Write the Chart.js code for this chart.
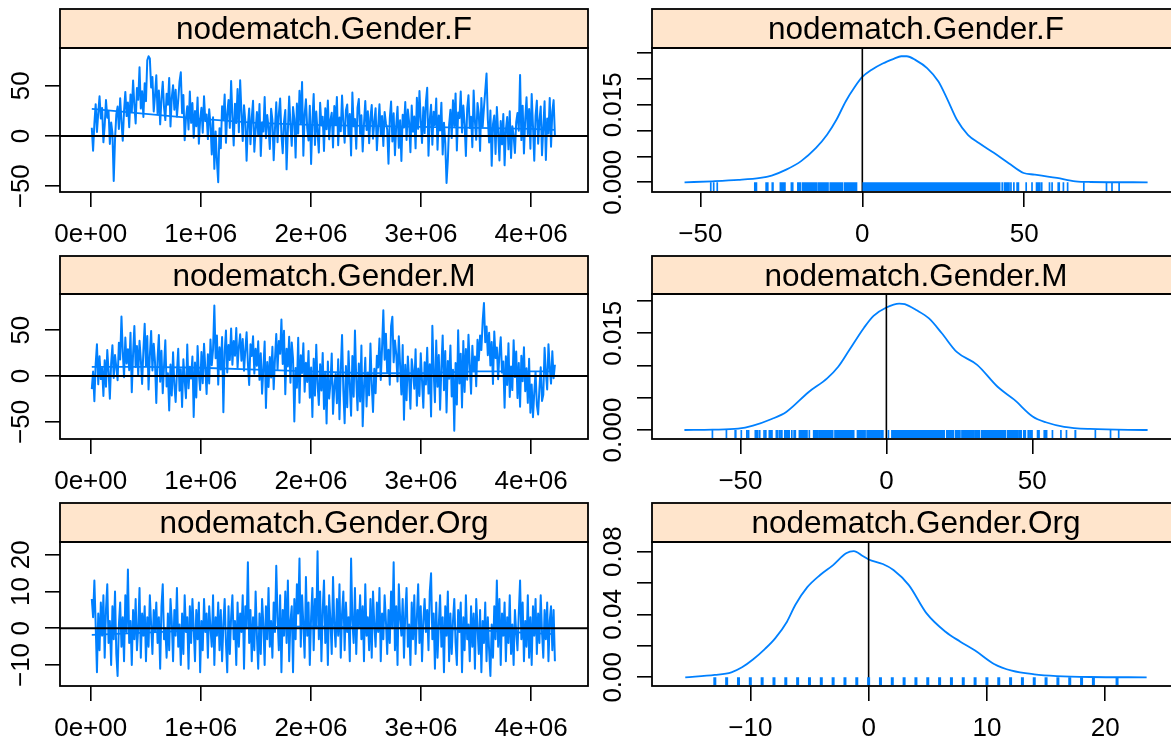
<!DOCTYPE html>
<html><head><meta charset="utf-8">
<script src="https://cdn.jsdelivr.net/npm/chart.js@4"></script>
<style>
html,body{margin:0;padding:0;background:#fff;overflow:hidden;width:1171px;height:742px;position:relative}
canvas{position:absolute}
</style></head><body>
<script>
// ---------------- DATA ----------------
const iterStart = 10000, iterStep = 11717;

const traceF = [
 8.2,-14.6,12.3,31.7,4.1,22.8,39.5,17.4,27.9,-6.3,
 10.7,35.8,18.2,24.6,-7.9,13.5,2.8,-44.8,-3.6,21.4,
 29.3,6.9,37.6,14.2,-4.7,25.1,43.9,19.8,33.4,8.7,
 41.2,23.6,55.3,30.9,12.4,47.8,36.1,68.4,27.3,44.6,
 18.9,52.4,34.7,75.4,79.3,77.1,48.2,58.6,24.3,39.9,
 60.5,21.7,45.3,11.6,36.8,53.9,28.4,15.8,42.1,31.2,
 57.8,9.4,38.3,50.6,26.2,45.9,19.3,35.5,54.2,63.4,
 22.6,40.7,-4.2,17.9,29.6,6.5,44.3,13.1,32.8,-1.8,
 24.9,9.7,38.4,-7.6,16.3,28.1,3.2,39.6,14.8,21.5,
 -3.1,26.7,11.9,-18.4,18.6,-32.7,4.6,-25.3,-45.9,7.8,
 -12.2,29.5,16.7,41.3,-6.8,22.4,35.9,8.1,54.7,19.6,
 -9.5,32.2,12.9,46.8,3.7,55.4,24.1,-4.9,30.6,15.2,
 -24.6,10.3,27.4,-8.2,18.1,35.1,-15.7,6.2,23.8,0.9,
 31.9,-19.8,13.6,4.4,38.7,-2.3,20.9,9.1,-12.9,27.2,
 16.1,-24.1,7.3,33.6,-6.1,22.1,37.4,1.6,-17.2,14.3,
 25.8,-33.2,5.4,39.2,11.2,-9.8,28.8,17.1,-21.5,32.4,
 2.4,45.1,12.6,53.8,-19.6,21.2,36.5,7.6,-4.4,30.1,
 -27.8,14.7,41.8,-8.9,24.4,3.9,-16.5,33.1,10.4,19.2,
 -14.9,27.6,6.7,35.4,-3.3,15.9,23.2,-11.4,29.9,11.1,
 38.9,-9.2,18.4,4.8,40.2,13.4,-6.6,25.6,31.3,0.4,
 21.9,-19.4,43.2,9.6,16.9,-12.6,28.3,36.9,2.1,20.6,
 -15.3,12.1,34.8,5.9,24.7,-7.2,18.3,30.8,-2.7,14.1,
 27.7,-14.2,9.3,31.6,1.2,19.9,-9.9,23.9,12.8,6.4,
 -27.6,17.6,34.3,-5.4,22.7,-19.1,10.6,29.1,-11.8,15.6,
 -24.8,21.1,8.4,33.8,-3.9,26.3,13.8,-16.2,30.3,4.3,
 19.4,-12.3,38.1,7.1,44.7,15.4,-6.9,28.6,2.9,34.1,
 47.9,-19.7,16.4,31.1,-8.6,24.2,10.9,37.3,-13.6,20.3,
 5.6,33.2,-18.3,13.3,-7.1,-46.8,-24.2,11.4,26.1,-2.1,
 35.6,9.9,42.4,-14.4,23.3,17.8,44.2,3.4,30.4,12.2,
 -19.9,27.1,40.6,7.9,19.1,-11.1,45.2,14.6,-3.8,32.9,
 22.3,-14.8,37.8,9.2,28.2,44.9,62.1,16.6,-6.4,25.3,
 -29.7,11.8,20.4,-17.8,28.9,3.6,-24.4,14.9,-8.3,21.8,
 -29.2,6.1,18.8,-13.3,24.6,-21.9,9.8,0.3,-16.9,13.7,
 22.9,5.2,60.8,-4.1,30.2,-17.4,16.8,38.6,1.9,26.8,
 -12.7,41.7,10.2,-24.7,20.1,35.2,-7.7,15.1,29.4,-19.2,
 8.9,34.6,-23.9,17.3,2.6,37.9,-10.6,24.3,35.7,0.6];

const traceM = [
 -14.3,4.8,-27.6,12.9,34.7,-9.1,21.6,-3.4,8.7,-21.8,
 17.2,-11.6,28.4,5.3,-24.9,14.1,33.6,-2.2,22.9,9.6,
 -4.6,36.2,18.1,64.8,26.7,-1.3,41.9,13.7,29.3,6.4,
 47.3,-17.6,24.2,54.6,9.9,32.8,0.7,38.4,17.9,-8.8,
 28.1,56.9,11.3,43.7,-14.7,22.4,49.2,6.1,35.3,15.6,
 -29.4,19.7,44.8,-6.3,27.5,-18.8,10.8,38.9,-11.4,3.1,
 -37.7,12.6,-21.2,25.9,-9.7,-28.3,4.2,29.6,-16.1,7.4,
 -33.9,18.3,-4.9,-24.2,34.4,-13.5,10.1,-2.8,21.3,-44.6,
 14.8,-23.4,32.6,1.9,-15.2,26.1,-7.8,35.1,8.3,-19.6,
 23.7,-8.1,39.8,11.8,28.9,76.8,19.4,44.1,-9.4,31.4,
 7.2,42.6,-39.6,26.3,49.7,3.8,33.9,17.4,51.8,12.2,
 38.2,22.1,52.3,8.9,31.6,45.5,16.6,40.3,5.7,27.8,
 47.6,13.9,-9.8,34.6,21.9,43.3,2.6,29.7,11.1,37.9,
 -4.2,24.8,-19.3,8.2,37.6,-34.8,15.3,-11.9,20.7,-1.6,
 31.8,-14.4,18.6,45.9,6.8,38.1,24.3,61.7,13.2,49.4,
 -19.8,29.8,10.4,42.8,-7.3,36.6,19.1,-49.7,8.6,-12.8,
 41.6,-29.1,22.6,3.3,35.7,-17.1,14.4,-6.6,27.4,-23.7,
 9.2,-44.7,18.9,-21.4,34.2,-8.4,-31.6,12.7,-15.9,25.2,
 -36.1,4.6,-51.8,15.8,-24.6,-7.6,24.6,-41.3,-12.1,2.3,
 -29.8,18.2,-47.2,6.9,44.6,-16.3,-51.6,10.9,-34.1,27.1,
 -9.1,-43.4,21.8,-22.7,49.6,-3.7,-37.4,13.6,-27.9,33.2,
 -54.8,-12.4,19.8,-33.3,3.9,-21.1,35.4,-8.9,-39.2,7.8,
 -18.7,22.2,9.4,40.8,-4.3,30.4,71.6,17.7,46.2,3.2,
 28.6,-9.6,54.3,64.7,14.9,38.6,24.1,-6.1,43.4,11.6,
 -20.2,33.7,-47.8,12.3,-26.4,21.4,-3.2,-35.8,18.4,4.7,
 -13.8,29.1,-32.4,8.1,-21.7,24.9,-5.3,-34.6,15.1,-9.3,
 30.7,-19.2,12.8,-44.1,54.9,5.6,-28.6,38.7,-11.7,22.8,
 -36.7,9.7,44.3,-15.6,27.2,-39.7,16.3,-2.9,33.4,-22.3,
 6.7,-59.6,14.2,-31.2,49.9,-8.2,24.4,-34.4,38.3,-17.4,
 29.4,-4.1,44.9,12.1,-19.4,33.1,5.1,21.2,-11.2,39.6,
 17.1,44.3,28.3,59.8,79.6,36.8,54.1,22.7,47.1,11.4,
 37.2,-8.7,48.6,19.6,31.2,-3.6,24.7,42.4,3.7,15.7,
 -34.7,21.6,-9.9,35.8,-22.8,10.3,-15.4,39.1,-1.2,26.6,
 -24.1,14.3,-33.6,22.1,-5.7,31.3,-16.7,8.4,-29.3,18.8,
 -40.1,-9.2,-44.9,-18.4,4.4,-31.4,-41.9,-13.3,9.6,-27.2,
 -20.6,30.8,4.1,-14.6,34.6,9.1,-8.3,26.9,-2.4,12.4];

const traceOrg = [
 8,3,13,1,-12,4,-6,7,-2,9,
 -8,5,12,-4,2,-10,6,-3,10,-7,
 -13,1,7,-5,3,-9,9,-1,16,-4,
 2,-10,5,-3,8,-6,0,11,-8,4,
 -2,6,-9,3,-5,9,1,-7,5,-1,
 7,-4,3,-11,6,12,-3,0,-8,4,
 -6,8,2,-9,5,-2,11,-5,1,-10,
 4,-7,9,-1,3,-11,6,-4,8,0,
 -9,5,-3,7,-12,2,-6,8,-1,4,
 -8,6,0,-5,9,-10,3,-2,7,-6,
 5,-9,1,8,-4,-12,6,-7,3,9,
 -3,2,-10,7,-5,4,-1,9,-11,6,
 0,18,-4,5,-9,3,-6,10,-2,-11,
 4,-7,8,1,-10,6,-3,11,-5,2,
 -8,7,-1,17,3,-6,9,-12,5,-2,
 10,-4,13,-9,2,6,-12,8,-3,12,
 4,19,-5,9,1,-8,14,-2,7,-10,
 3,11,-6,8,0,21,-3,10,-9,5,
 13,-4,6,-10,9,2,-7,14,1,-5,
 8,-2,12,-8,4,10,-6,7,-1,3,
 -9,19,2,-4,11,-7,5,0,9,-3,
 6,-9,12,-2,3,-6,8,-8,10,1,
 -5,7,-1,11,-9,4,-3,9,2,-7,
 5,-4,10,0,18,-6,6,-10,12,3,
 -2,8,-8,4,11,-5,1,-10,7,-3,
 9,-7,3,12,-4,6,-9,2,8,-1,
 5,-6,10,15,-3,4,-11,7,-8,1,
 9,-5,3,-12,6,-2,10,-9,4,-7,
 2,8,-4,-10,5,-1,7,-12,3,-6,
 9,-3,1,-9,6,-5,4,-11,8,0,
 -7,5,-12,2,-4,7,-9,3,-6,-13,
 1,-8,6,-3,13,-5,8,-10,4,-2,
 7,-9,3,-4,9,-7,1,-10,5,-1,
 -6,4,13,-3,7,-9,2,-5,9,-8,
 3,-10,6,-2,8,-7,4,-4,9,-1,
 -8,5,-3,7,-9,2,6,-6,5,-9];

// smoothed trend lines of the traces
const smoothIter = [10000,500000,1000000,1500000,2000000,2500000,3000000,3500000,4000000,4216400];
const smoothF   = [27,22,17,13,11,10,9,8,7,6];
const smoothM   = [10,10,9,7,5,3,3,5,5,5];
const smoothOrg = [-1.8,-1.2,-0.5,0.3,0.5,0.3,0,-0.5,-1.3,-1.6];

// kernel density estimates
const densFX = [-54.9,-46.3,-38.3,-31.5,-28.0,-23.5,-18.9,-14.3,-10.9,-8.0,-5.1,-2.3,0,2.9,6.3,9.7,12.0,13.7,16.6,20.0,23.5,26.3,29.2,32.6,36.0,40.6,45.2,49.8,53.2,60.1,65.8,70.4,88.1];
const densFY = [0,0.00019,0.00045,0.00084,0.0013,0.00245,0.0041,0.00665,0.0092,0.0121,0.0157,0.0185,0.0204,0.0218,0.0230,0.0239,0.0244,0.0244,0.0236,0.0221,0.0195,0.0160,0.0121,0.0092,0.0076,0.0057,0.0037,0.0018,0.0015,0.00084,0.00019,0.00006,0];
const densMX = [-69.2,-59.6,-50.8,-45.7,-39.3,-34.3,-26.6,-20.3,-16.5,-12.7,-7.6,-4.4,0,4.4,6.3,10.2,14.6,19.0,24.1,31.1,38.1,43.8,50.1,54.6,60.9,69.8,89.5];
const densMY = [0,0.00005,0.0002,0.00067,0.0017,0.0028,0.0059,0.0080,0.0098,0.0124,0.0159,0.0177,0.0190,0.0196,0.0195,0.0186,0.0173,0.0150,0.0121,0.0101,0.0067,0.0047,0.0021,0.0012,0.0005,0.00016,0];
const densOrgX = [-15.5,-13.0,-11.6,-10.7,-9.75,-8.8,-7.9,-6.9,-6.2,-5.2,-4.1,-3.0,-1.9,-1.25,-0.5,0,1.2,2.1,3.4,4.9,6.5,7.75,9.0,10.6,12.1,14.0,15.9,18.7,23.5];
const densOrgY = [0,0.0015,0.0032,0.0064,0.0115,0.0178,0.0248,0.0354,0.046,0.0572,0.0651,0.0714,0.0789,0.0803,0.0772,0.0750,0.0721,0.0683,0.0587,0.0407,0.0290,0.0227,0.0170,0.0085,0.0042,0.0019,0.0008,0.0002,0];

// tick values and labels
const traceXTicks  = [0,1e6,2e6,3e6,4e6];
const traceXLabels = ['0e+00','1e+06','2e+06','3e+06','4e+06'];
const traceYTicks  = [-50,0,50];
const traceYLabels = ['\u221250','0','50'];
const traceOrgYTicks  = [-10,0,10,20];
const traceOrgYLabels = ['\u221210','0','10','20'];
const densXTicks  = [-50,0,50];
const densXLabels = ['\u221250','0','50'];
const densOrgXTicks  = [-10,0,10,20];
const densOrgXLabels = ['\u221210','0','10','20'];
const densFYTicks  = [0,0.005,0.01,0.015,0.02,0.025];
const densFYLabels = ['0.000','','','0.015','',''];
const densMYTicks  = [0,0.005,0.01,0.015,0.02];
const densMYLabels = ['0.000','','','0.015',''];
const densOrgYTicks  = [0,0.02,0.04,0.06,0.08];
const densOrgYLabels = ['0.00','','0.04','','0.08'];

const titles = ['nodematch.Gender.F','nodematch.Gender.M','nodematch.Gender.Org'];

// ---------------- LAYOUT / STYLE ----------------
const BLUE = '#0080FF', STRIP = '#FFE5CC';
const FONT = '"Liberation Sans", Arial, Helvetica, sans-serif';
const rows = [
  {stripTop:9,   plotTop:48,  plotBottom:192},
  {stripTop:256, plotTop:294, plotBottom:439},
  {stripTop:503, plotTop:542, plotBottom:686}
];
const cols = [{boxLeft:60, boxRight:588},{boxLeft:652, boxRight:1180}];
const LEFT_M = 60, BOTTOM_M = 55;

const iterations = traceF.map((_, i) => iterStart + i * iterStep);
const pts = (xs, ys) => xs.map((x, i) => ({x, y: ys[i]}));

const panels = [
  {row:0,col:0,kind:'trace',title:titles[0],vals:traceF,smooth:smoothF,xMin:-278800,xMax:4517000,yMin:-55.72,yMax:87.56,xT:traceXTicks,xL:traceXLabels,yT:traceYTicks,yL:traceYLabels},
  {row:0,col:1,kind:'dens',title:titles[0],dx:densFX,dy:densFY,rug:traceF,xMin:-64.95,xMax:98.1,yMin:-0.001878,yMax:0.0260,xT:densXTicks,xL:densXLabels,yT:densFYTicks,yL:densFYLabels,rugW:1.7},
  {row:1,col:0,kind:'trace',title:titles[1],vals:traceM,smooth:smoothM,xMin:-278800,xMax:4517000,yMin:-68.73,yMax:89.45,xT:traceXTicks,xL:traceXLabels,yT:traceYTicks,yL:traceYLabels},
  {row:1,col:1,kind:'dens',title:titles[1],dx:densMX,dy:densMY,rug:traceM,xMin:-80.3,xMax:100.6,yMin:-0.001395,yMax:0.021085,xT:densXTicks,xL:densXLabels,yT:densMYTicks,yL:densMYLabels,rugW:1.7},
  {row:2,col:0,kind:'trace',title:titles[2],vals:traceOrg,smooth:smoothOrg,xMin:-278800,xMax:4517000,yMin:-15.72,yMax:23.5,xT:traceXTicks,xL:traceXLabels,yT:traceOrgYTicks,yL:traceOrgYLabels},
  {row:2,col:1,kind:'dens',title:titles[2],dx:densOrgX,dy:densOrgY,rug:traceOrg,xMin:-18.31,xMax:26.32,yMin:-0.005538,yMax:0.08612,xT:densOrgXTicks,xL:densOrgXLabels,yT:densOrgYTicks,yL:densOrgYLabels,rugW:3}
];

const decor = {
  id:'decor',
  beforeDraw(chart, args, o){
    const a = chart.chartArea, ctx = chart.ctx;
    ctx.save();
    ctx.fillStyle = STRIP;
    ctx.fillRect(a.left, o.stripY, a.right - a.left, a.top - o.stripY);
    ctx.lineWidth = 1.8; ctx.strokeStyle = '#000';
    ctx.strokeRect(a.left, o.stripY, a.right - a.left, a.top - o.stripY);
    ctx.fillStyle = '#000';
    ctx.font = '31.5px ' + FONT;
    ctx.textAlign = 'center'; ctx.textBaseline = 'alphabetic';
    ctx.fillText(o.title, (a.left + a.right) / 2, o.stripY + 30.2);
    ctx.restore();
  },
  afterDatasetsDraw(chart, args, o){
    if (!o.rug) return;
    const a = chart.chartArea, ctx = chart.ctx, xs = chart.scales.x, ys = chart.scales.y;
    const y0 = ys.getPixelForValue(0);
    ctx.save();
    ctx.strokeStyle = BLUE; ctx.lineWidth = o.rugW;
    ctx.beginPath();
    o.rug.forEach(v => { const px = xs.getPixelForValue(v); ctx.moveTo(px, y0); ctx.lineTo(px, a.bottom - 1); });
    ctx.stroke();
    ctx.restore();
  },
  afterDraw(chart, args, o){
    const a = chart.chartArea, ctx = chart.ctx, ys = chart.scales.y;
    ctx.save();
    ctx.lineWidth = 1.8; ctx.strokeStyle = '#000';
    ctx.strokeRect(a.left, a.top, a.right - a.left, a.bottom - a.top);
    ctx.fillStyle = '#000';
    ctx.font = '26px ' + FONT;
    ctx.textAlign = 'center'; ctx.textBaseline = 'middle';
    o.yT.forEach((v, i) => {
      if (!o.yL[i]) return;
      const py = ys.getPixelForValue(v);
      ctx.save();
      ctx.translate(a.left - 38.5, py);
      ctx.rotate(-Math.PI / 2);
      ctx.fillText(o.yL[i], 0, 0);
      ctx.restore();
    });
    ctx.restore();
  }
};

panels.forEach(p => {
  const r = rows[p.row], c = cols[p.col];
  const top = r.stripTop - 2, left = c.boxLeft - LEFT_M;
  const W = (c.boxRight - c.boxLeft) + LEFT_M + 2;
  const H = (r.plotBottom - top) + BOTTOM_M;
  const cv = document.createElement('canvas');
  cv.width = W; cv.height = H;
  cv.style.left = left + 'px'; cv.style.top = top + 'px';
  cv.style.width = W + 'px'; cv.style.height = H + 'px';
  document.body.appendChild(cv);

  let datasets;
  if (p.kind === 'trace') {
    datasets = [
      {data:[{x:p.xMin,y:0},{x:p.xMax,y:0}], borderColor:'#000', borderWidth:2, order:0},
      {data:pts(smoothIter, p.smooth), borderColor:BLUE, borderWidth:1.8, order:2},
      {data:pts(iterations, p.vals), borderColor:BLUE, borderWidth:2, borderJoinStyle:'round', order:1}
    ];
  } else {
    datasets = [
      {data:[{x:0,y:p.yMin},{x:0,y:p.yMax}], borderColor:'#000', borderWidth:1.6, order:0},
      {data:pts(p.dx, p.dy), borderColor:BLUE, borderWidth:1.8, cubicInterpolationMode:'monotone', order:1}
    ];
  }

  new Chart(cv, {
    type:'line',
    data:{datasets},
    options:{
      responsive:false, maintainAspectRatio:false, animation:false, events:[],
      devicePixelRatio:1,
      layout:{padding:{left:0, top:r.plotTop - top, right:2, bottom:0}},
      elements:{point:{radius:0}, line:{tension:0, fill:false}},
      plugins:{legend:{display:false}, tooltip:{enabled:false},
        decor:{stripY:r.stripTop - top, title:p.title, yT:p.yT, yL:p.yL, rug:p.rug || null, rugW:p.rugW || 1.5}},
      scales:{
        x:{type:'linear', min:p.xMin, max:p.xMax,
          afterBuildTicks: s => { s.ticks = p.xT.map(v => ({value:v})); },
          afterFit: s => { s.height = BOTTOM_M; },
          border:{display:false},
          grid:{drawOnChartArea:false, drawTicks:true, tickLength:15, color:'#000', lineWidth:1.6},
          ticks:{autoSkip:false, maxRotation:0, minRotation:0, padding:12, color:'#000',
                 font:{family:FONT, size:26}, callback:(v, i) => p.xL[i]}},
        y:{type:'linear', min:p.yMin, max:p.yMax,
          afterBuildTicks: s => { s.ticks = p.yT.map(v => ({value:v})); },
          afterFit: s => { s.width = LEFT_M; },
          border:{display:false},
          grid:{drawOnChartArea:false, drawTicks:true, tickLength:15, color:'#000', lineWidth:1.6},
          ticks:{display:false}}
      }
    },
    plugins:[decor]
  });
});
</script>
</body></html>
